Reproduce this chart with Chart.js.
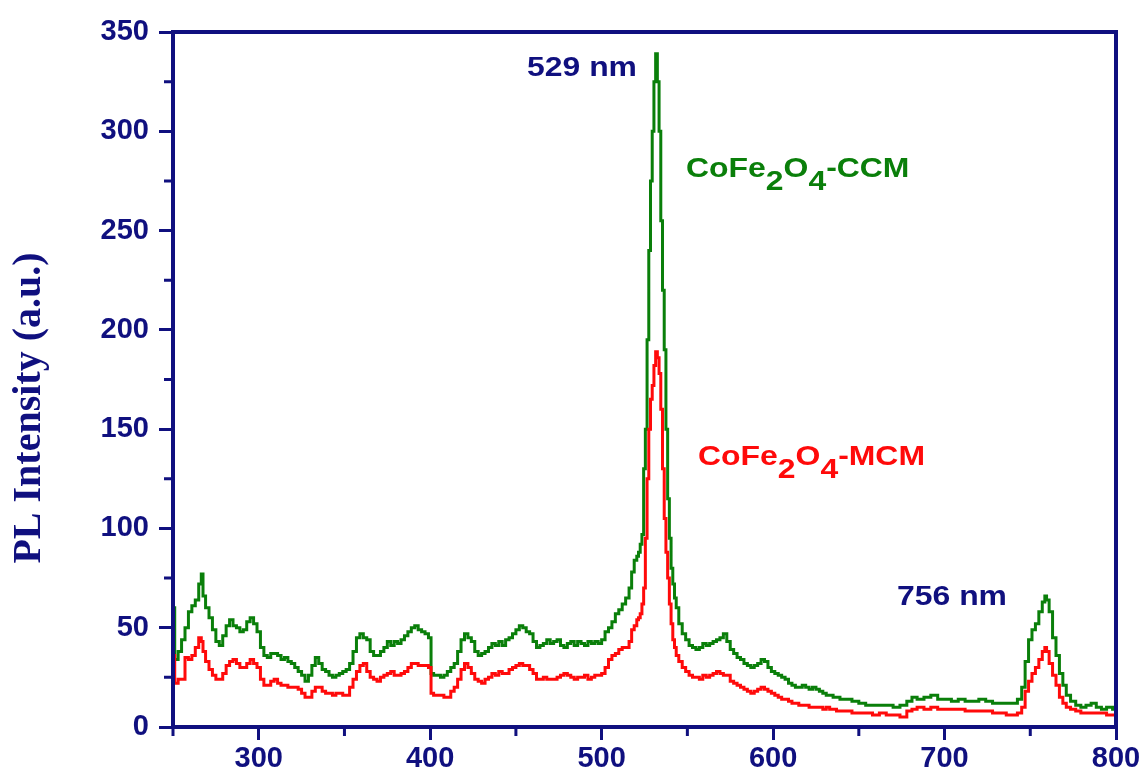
<!DOCTYPE html>
<html>
<head>
<meta charset="utf-8">
<script src="https://cdn.jsdelivr.net/npm/chart.js@4.4.1/dist/chart.umd.min.js"></script>
<style>
  html, body { margin: 0; padding: 0; background: #fff; }
  #wrap { width: 1147px; height: 776px; }
</style>
</head>
<body>
<div id="wrap"><canvas id="plChart" width="1147" height="776"></canvas></div>
<script>
// wavelength (nm)
var wavelength = [
  250,252,254,256,258,260,262,264,266,267,
  268,270,272,274,276,278,280,282,284,286,
  288,290,292,294,296,298,300,302,304,306,
  308,310,312,314,316,318,320,322,324,326,
  328,330,332,334,336,338,340,342,344,346,
  348,350,352,354,356,358,360,362,364,366,
  368,370,372,374,376,378,380,382,384,386,
  388,390,392,394,396,398,400,401,403,405,
  407,409,411,413,415,417,419,421,423,425,
  427,429,431,433,435,437,439,441,443,445,
  447,449,451,453,455,457,459,461,463,465,
  467,469,471,473,475,477,479,481,483,485,
  487,489,491,493,495,497,499,501,503,505,
  507,509,511,513,515,517,518,520,521,522,
  523,524,525,526,527,528,529,530,531,532,
  533,534,535,536,537,538,539,540,541,542,
  543,544,546,548,550,552,554,556,558,560,
  562,564,566,568,570,572,574,576,578,580,
  582,584,586,588,590,592,594,596,598,600,
  602,604,606,608,610,612,614,616,618,620,
  622,624,626,628,630,632,634,636,638,640,
  644,648,652,656,660,664,668,672,676,680,
  682,686,690,694,698,702,706,710,714,718,
  722,726,730,734,738,741,744,746,748,750,
  752,754,756,758,759,760,762,764,766,768,
  770,772,775,778,781,784,787,790,793,796,800
];

// CoFe2O4-CCM (green)
var ccm = [
  60,34,38,44,50,58,61,64,72,77,
  66,60,55,49,43,41,46,51,54,51,
  50,48,49,53,55,52,48,40,36,35,
  37,37,36,34,35,33,32,30,28,26,
  23,26,31,35,32,29,28,26,25,26,
  27,28,29,32,38,45,47,45,44,38,
  36,36,38,40,43,41,43,42,44,46,
  48,50,51,49,48,47,45,27,26,26,
  25,26,28,30,32,38,44,47,45,43,
  38,36,37,38,40,42,41,43,41,44,
  45,47,49,51,50,48,47,43,40,41,
  42,44,42,43,44,41,40,42,43,41,
  43,42,41,43,42,43,42,44,48,50,
  53,57,59,62,65,70,78,84,86,88,
  92,97,130,150,195,240,275,300,325,339,
  325,300,255,220,190,150,115,95,80,72,
  65,60,52,47,44,41,40,39,40,42,
  41,42,43,44,45,47,43,39,37,35,
  34,32,31,30,31,32,34,33,30,28,
  27,26,25,24,22,21,20,20,21,20,
  19,20,19,18,17,16,16,15,15,14,
  14,13,12,11,11,11,11,10,11,13,
  15,14,15,16,14,14,13,14,13,13,
  14,13,12,12,12,12,14,20,33,44,
  49,52,58,63,66,64,58,45,36,27,
  21,16,13,11,10,11,12,10,9,10,9
];

// CoFe2O4-MCM (red)
var mcm = [
  36,22,24,24,35,34,36,40,45,43,
  38,33,29,26,24,24,27,31,33,34,
  32,30,30,32,34,32,30,24,21,21,
  23,24,22,21,21,20,20,20,19,17,
  15,15,18,20,20,18,17,17,16,17,
  17,16,16,20,24,28,31,32,28,25,
  24,23,25,26,27,28,26,26,27,28,
  30,32,32,31,31,31,30,17,16,16,
  16,15,15,18,20,24,29,32,30,27,
  24,23,22,24,25,27,26,28,27,27,
  29,30,31,32,31,31,29,27,24,24,
  25,24,24,24,25,26,27,26,25,24,
  25,25,26,24,25,26,26,27,30,34,
  36,37,39,40,40,43,49,51,54,55,
  57,62,70,95,125,150,165,172,182,189,
  186,178,160,130,105,88,75,62,52,44,
  40,36,33,30,28,26,25,25,24,26,
  25,26,27,28,27,26,26,23,22,21,
  20,19,18,17,18,19,20,19,18,17,
  16,15,14,14,13,12,12,11,11,11,
  10,10,10,10,9,10,9,9,8,8,
  8,7,7,7,6,7,6,6,5,8,
  9,10,9,10,9,9,9,9,8,8,
  8,8,7,7,6,6,7,10,18,23,
  27,30,34,38,40,38,32,26,21,15,
  12,10,9,8,7,7,7,7,7,6,6
];

var xMajor = [300, 400, 500, 600, 700, 800];
var xMinor = [250, 350, 450, 550, 650, 750];
var yMajor = [0, 50, 100, 150, 200, 250, 300, 350];
var yMinor = [25, 75, 125, 175, 225, 275, 325];

var navy = "#10107f";
var green = "#0a7f0a";
var red = "#ff0a0a";

if (wavelength.length !== ccm.length || wavelength.length !== mcm.length) {
  console.log("length mismatch", wavelength.length, ccm.length, mcm.length);
}

function toPoints(ys) {
  return wavelength.map(function (w, i) { return { x: w, y: ys[i] }; });
}

// text with subscripts, stretched a bit wider like the original figure
function drawParts(ctx, parts, x, y, size, color, stretch) {
  ctx.save();
  ctx.translate(x, y);
  ctx.scale(stretch, 1);
  ctx.fillStyle = color;
  ctx.textBaseline = "alphabetic";
  ctx.textAlign = "left";
  ctx.font = "bold " + size + "px 'Liberation Sans', Arial, sans-serif";
  var cx = 0;
  parts.forEach(function (p) {
    var dy = p[1] ? 13 : 0;
    ctx.fillText(p[0], cx, dy);
    cx += ctx.measureText(p[0]).width;
  });
  ctx.restore();
}

var decorations = {
  id: "decorations",
  afterDraw: function (chart) {
    var ctx = chart.ctx;
    var a = chart.chartArea;
    var xs = chart.scales.x;
    var ys = chart.scales.y;
    ctx.save();
    // frame
    ctx.strokeStyle = navy;
    ctx.lineWidth = 4;
    ctx.strokeRect(a.left, a.top, a.right - a.left, a.bottom - a.top);
    // minor ticks
    ctx.lineWidth = 3;
    ctx.beginPath();
    xMinor.forEach(function (v) {
      var px = xs.getPixelForValue(v);
      ctx.moveTo(px, a.bottom);
      ctx.lineTo(px, a.bottom + 9);
    });
    yMinor.forEach(function (v) {
      var py = ys.getPixelForValue(v);
      ctx.moveTo(a.left, py);
      ctx.lineTo(a.left - 9, py);
    });
    ctx.stroke();
    ctx.restore();

    // y title
    ctx.save();
    ctx.translate(30, 408);
    ctx.rotate(-Math.PI / 2);
    ctx.fillStyle = navy;
    ctx.textAlign = "center";
    ctx.textBaseline = "middle";
    ctx.font = "bold 40px 'Liberation Serif', 'Times New Roman', serif";
    ctx.fillText("PL Intensity (a.u.)", 0, 0);
    ctx.restore();

    // annotations
    drawParts(ctx, [["529 nm", false]], 527, 76, 28, navy, 1.14);
    drawParts(ctx, [["756 nm", false]], 897, 605, 28, navy, 1.14);
    drawParts(ctx, [["CoFe", false], ["2", true], ["O", false], ["4", true], ["-CCM", false]], 686, 177, 28, green, 1.14);
    drawParts(ctx, [["CoFe", false], ["2", true], ["O", false], ["4", true], ["-MCM", false]], 698, 465, 28, red, 1.14);
  }
};

var ctx = document.getElementById("plChart").getContext("2d");
var plChart = new Chart(ctx, {
  type: "line",
  data: {
    datasets: [
      {
        label: "CoFe2O4-CCM",
        data: toPoints(ccm),
        borderColor: green,
        borderWidth: 3,
        pointRadius: 0,
        stepped: "middle",
        fill: false,
        order: 2
      },
      {
        label: "CoFe2O4-MCM",
        data: toPoints(mcm),
        borderColor: red,
        borderWidth: 3,
        pointRadius: 0,
        stepped: "middle",
        fill: false,
        order: 1
      }
    ]
  },
  options: {
    responsive: false,
    animation: false,
    layout: { padding: { left: 0, top: 32, right: 31, bottom: 0 } },
    plugins: {
      legend: { display: false },
      tooltip: { enabled: false }
    },
    scales: {
      x: {
        type: "linear",
        min: 250,
        max: 800,
        afterBuildTicks: function (scale) {
          scale.ticks = xMajor.map(function (v) { return { value: v }; });
        },
        afterFit: function (scale) { scale.height = 49; },
        border: { display: false },
        grid: {
          drawOnChartArea: false,
          drawTicks: true,
          tickLength: 13,
          tickWidth: 3,
          tickColor: navy
        },
        ticks: {
          color: navy,
          padding: 2,
          maxRotation: 0,
          autoSkip: false,
          font: { family: "'Liberation Sans', Arial, sans-serif", size: 29, weight: "bold" }
        }
      },
      y: {
        type: "linear",
        min: 0,
        max: 350,
        afterBuildTicks: function (scale) {
          scale.ticks = yMajor.map(function (v) { return { value: v }; });
        },
        afterFit: function (scale) { scale.width = 173; },
        border: { display: false },
        grid: {
          drawOnChartArea: false,
          drawTicks: true,
          tickLength: 14,
          tickWidth: 3,
          tickColor: navy
        },
        ticks: {
          color: navy,
          padding: 10,
          autoSkip: false,
          font: { family: "'Liberation Sans', Arial, sans-serif", size: 29, weight: "bold" }
        }
      }
    }
  },
  plugins: [decorations]
});
</script>
</body>
</html>
